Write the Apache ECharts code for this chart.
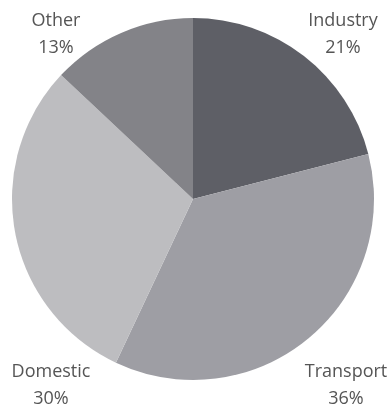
<!DOCTYPE html>
<html>
<head>
<meta charset="utf-8">
<script src="https://cdn.jsdelivr.net/npm/echarts@6/dist/echarts.min.js"></script>
<style>
html,body{margin:0;padding:0;background:#fff;}
#c{width:390px;height:408px;}
</style>
</head>
<body>
<div id="c"></div>
<script>
const categories = ['Industry', 'Transport', 'Domestic', 'Other'];
const shares = [21, 36, 30, 13];

const sliceColors = ['#5e5f66', '#9e9ea4', '#bdbdc0', '#838388'];
const labelAnchors = [[343, 34], [346, 385], [51, 385], [56, 34]];

const chart = echarts.init(document.getElementById('c'), null, {renderer: 'canvas'});
chart.setOption({
  animation: false,
  backgroundColor: '#ffffff',
  graphic: categories.map((n, i) => ({
    type: 'text',
    x: labelAnchors[i][0],
    y: labelAnchors[i][1],
    z: 10,
    style: {
      text: n + '\n' + shares[i] + '%',
      fontFamily: 'Open Sans',
      fontSize: 18,
      lineHeight: 27,
      fill: '#555555',
      align: 'center',
      verticalAlign: 'middle'
    }
  })),
  series: [{
    type: 'pie',
    center: [193, 199],
    radius: 181,
    startAngle: 90,
    clockwise: true,
    silent: true,
    data: categories.map((n, i) => ({name: n, value: shares[i], itemStyle: {color: sliceColors[i]}})),
    itemStyle: {borderWidth: 0},
    label: {show: false},
    labelLine: {show: false}
  }]
});
</script>
</body>
</html>
